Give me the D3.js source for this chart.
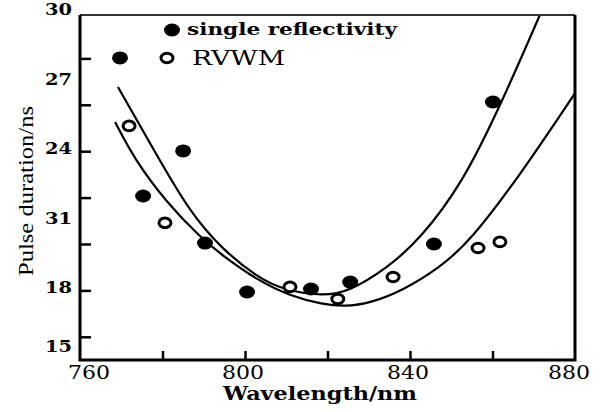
<!DOCTYPE html>
<html lang="en">
<head>
<meta charset="UTF-8">
<title>Pulse duration vs wavelength</title>
<script src="https://d3js.org/d3.v7.min.js"></script>
<style>
  body { margin: 0; background: #fff; }
  svg { display: block; }
</style>
</head>
<body>
<script>
// measured points, single reflectivity (filled)
var singleX = [769.7, 775.3, 785.0, 790.3, 800.5, 816.0, 825.5, 845.8, 860.1];
var singleY = [28.02, 22.07, 24.01, 20.04, 17.93, 18.06, 18.36, 20.0, 26.12];

// measured points, RVWM (open)
var rvwmX = [771.9, 780.6, 810.9, 822.5, 835.9, 856.5, 861.8];
var rvwmY = [25.09, 20.91, 18.15, 17.63, 18.58, 19.83, 20.09];

// fitted curves
var fit1X = [769.2, 777.9, 786.7, 794.7, 802.9, 809.2, 818.9, 825.2, 834.4, 842.4, 852.8, 862.3, 871.8];
var fit1Y = [26.77, 24.05, 21.34, 19.74, 18.58, 18.02, 17.75, 17.95, 18.95, 20.2, 22.63, 26.12, 30.0];
var fit2X = [768.5, 773.3, 781.1, 789.1, 794.7, 802.9, 810.9, 818.9, 824.2, 830.3, 838.3, 847.3, 854.5, 866.7, 880];
var fit2Y = [25.26, 23.62, 21.77, 20.30, 19.48, 18.45, 17.76, 17.40, 17.30, 17.45, 18.0, 19.0, 20.1, 22.97, 26.5];

// axes
var xTicks = [780, 800, 820, 840, 860];
var xLabels = [760, 800, 840, 880];
var yTicks = [16, 18, 20, 22, 24, 26, 28];
var yLabelVals = [15, 18, 21, 24, 27, 30];
var yLabelText = ["15", "18", "31", "24", "27", "30"];

var W = 606, H = 412;
var x = d3.scaleLinear().domain([760, 880]).range([80, 575]);
var y = d3.scaleLinear().domain([15, 30]).range([360, 12]);

var svg = d3.select("body").append("svg")
    .attr("width", W)
    .attr("height", H);

svg.append("defs").append("clipPath").attr("id", "plotclip")
  .append("rect")
    .attr("x", 80).attr("y", 15)
    .attr("width", 495).attr("height", 345);

// curves
var line = d3.line()
    .x(function(d) { return x(d[0]); })
    .y(function(d) { return y(d[1]); })
    .curve(d3.curveBasis);

var fits = [d3.zip(fit1X, fit1Y), d3.zip(fit2X, fit2Y)];
svg.append("g").attr("clip-path", "url(#plotclip)")
  .selectAll("path")
  .data(fits)
  .enter().append("path")
    .attr("d", line)
    .attr("fill", "none")
    .attr("stroke", "#000")
    .attr("stroke-width", 2.2);

// points
svg.selectAll(".single")
    .data(d3.zip(singleX, singleY))
  .enter().append("ellipse")
    .attr("class", "single")
    .attr("cx", function(d) { return x(d[0]); })
    .attr("cy", function(d) { return y(d[1]); })
    .attr("rx", 8).attr("ry", 6.5)
    .attr("fill", "#000");

svg.selectAll(".rvwm")
    .data(d3.zip(rvwmX, rvwmY))
  .enter().append("ellipse")
    .attr("class", "rvwm")
    .attr("cx", function(d) { return x(d[0]); })
    .attr("cy", function(d) { return y(d[1]); })
    .attr("rx", 6).attr("ry", 4.8)
    .attr("fill", "#fff")
    .attr("stroke", "#000")
    .attr("stroke-width", 3);

// frame
svg.append("line").attr("x1", 80).attr("x2", 575).attr("y1", 15).attr("y2", 15)
    .attr("stroke", "#333").attr("stroke-width", 2);
svg.append("path")
    .attr("d", "M80,15V360H575V15")
    .attr("fill", "none")
    .attr("stroke", "#000")
    .attr("stroke-width", 3);

// inward ticks
var xAxis = svg.append("g")
    .attr("transform", "translate(0,360)")
    .call(d3.axisBottom(x).tickValues(xTicks).tickSize(-9).tickFormat(""));
var yAxis = svg.append("g")
    .attr("transform", "translate(80,0)")
    .call(d3.axisLeft(y).tickValues(yTicks).tickSize(-11).tickFormat(""));
svg.selectAll(".domain").remove();
svg.selectAll(".tick line").attr("stroke", "#000").attr("stroke-width", 2.5);

// tick labels
svg.selectAll(".xlab")
    .data(xLabels)
  .enter().append("text")
    .attr("class", "xlab")
    .attr("x", function(d, i) { return x(d) + (i == 0 ? 9 : (i == xLabels.length - 1 ? -6 : -2)); })
    .attr("y", 379)
    .attr("text-anchor", "middle")
    .attr("textLength", 42)
    .attr("lengthAdjust", "spacingAndGlyphs")
    .style("font-family", "'DejaVu Serif', serif")
    .style("font-size", "19px")
    .text(function(d) { return d; });

svg.selectAll(".ylab")
    .data(yLabelVals)
  .enter().append("text")
    .attr("class", "ylab")
    .attr("x", 72)
    .attr("y", function(d) { return Math.min(y(d), 349) + 3; })
    .attr("text-anchor", "end")
    .attr("textLength", 27)
    .attr("lengthAdjust", "spacingAndGlyphs")
    .style("font-family", "'DejaVu Serif', serif")
    .style("font-weight", "bold")
    .style("font-size", "17px")
    .text(function(d, i) { return yLabelText[i]; });

// axis titles
svg.append("text")
    .attr("x", 320)
    .attr("y", 400)
    .attr("text-anchor", "middle")
    .attr("textLength", 194)
    .attr("lengthAdjust", "spacingAndGlyphs")
    .style("font-family", "'DejaVu Serif', serif")
    .style("font-weight", "bold")
    .style("font-size", "19px")
    .text("Wavelength/nm");

svg.append("text")
    .attr("transform", "translate(33,191) rotate(-90)")
    .attr("text-anchor", "middle")
    .attr("textLength", 170)
    .attr("lengthAdjust", "spacingAndGlyphs")
    .style("font-family", "'Liberation Serif', serif")
    .style("font-size", "21px")
    .text("Pulse duration/ns");

// legend
var legend = svg.append("g");
legend.append("ellipse")
    .attr("cx", 172).attr("cy", 30).attr("rx", 8).attr("ry", 6.5)
    .attr("fill", "#000");
legend.append("text")
    .attr("x", 187).attr("y", 35)
    .attr("textLength", 210)
    .attr("lengthAdjust", "spacingAndGlyphs")
    .style("font-family", "'DejaVu Serif', serif")
    .style("font-weight", "bold")
    .style("font-size", "17px")
    .text("single reflectivity");
legend.append("ellipse")
    .attr("cx", 167).attr("cy", 58).attr("rx", 6).attr("ry", 4.8)
    .attr("fill", "#fff").attr("stroke", "#000").attr("stroke-width", 3);
legend.append("text")
    .attr("x", 192).attr("y", 65)
    .attr("textLength", 93)
    .attr("lengthAdjust", "spacingAndGlyphs")
    .style("font-family", "'DejaVu Serif', serif")
    .style("font-size", "20px")
    .text("RVWM");
</script>
</body>
</html>
